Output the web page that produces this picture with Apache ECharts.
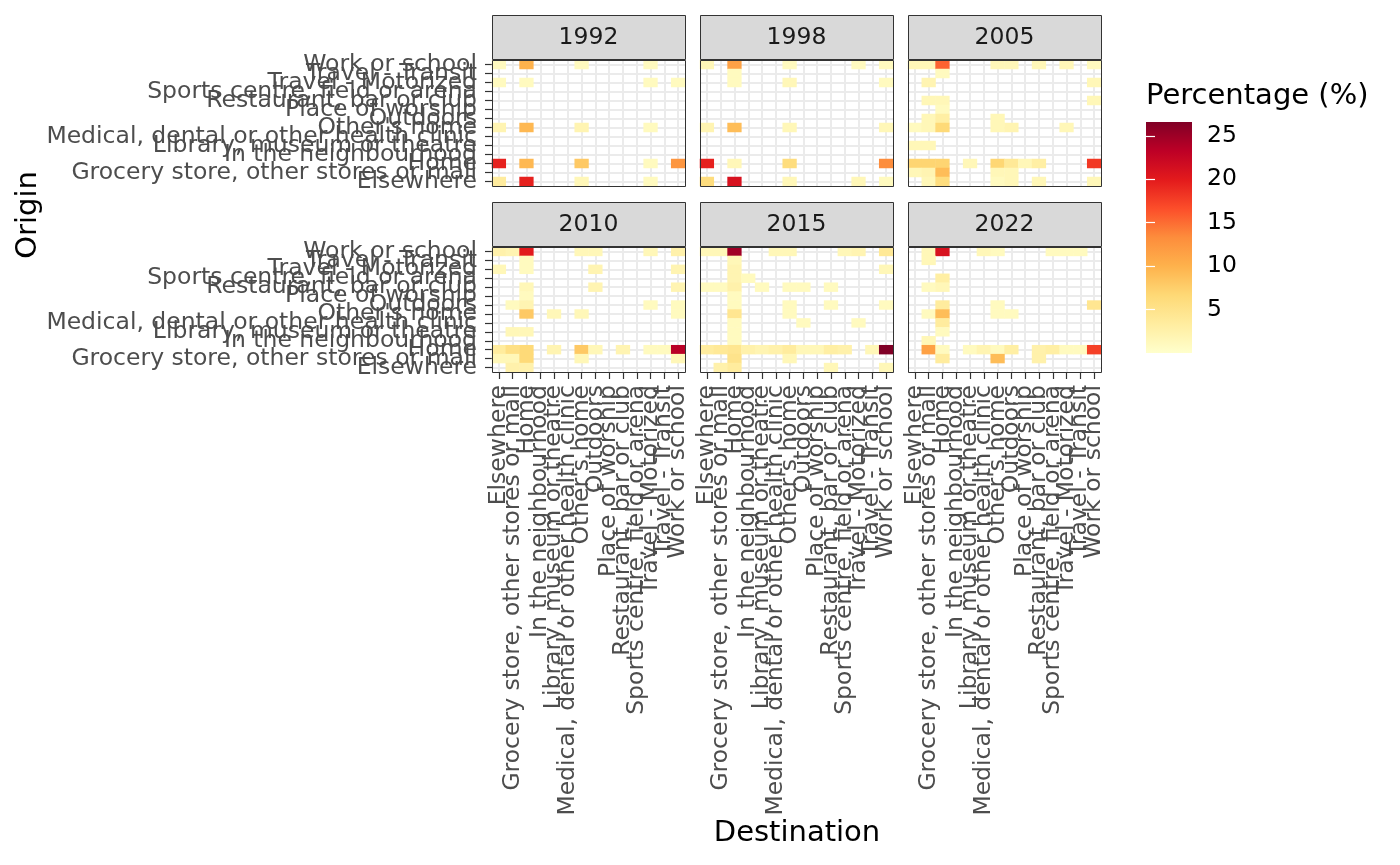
<!DOCTYPE html>
<html>
<head>
<meta charset="utf-8">
<script src="https://cdn.jsdelivr.net/npm/echarts@6/dist/echarts.min.js"></script>
<style>
  html, body { margin: 0; padding: 0; background: #fff; }
  #chart { width: 1400px; height: 865px; }
</style>
</head>
<body>
<div id="chart"></div>
<script>
var places = ['Elsewhere', 'Grocery store, other stores or mall', 'Home', 'In the neighbourhood',
  'Library, museum or theatre', 'Medical, dental or other health clinic', "Other's home", 'Outdoors',
  'Place of worship', 'Restaurant, bar or club', 'Sports centre, field or arena', 'Travel - Motorized',
  'Travel - Transit', 'Work or school'];
var years = ['1992', '1998', '2005', '2010', '2015', '2022'];

// [destination index, origin index, percentage]
var pct1992 = [
  [0,13,1],[2,13,10],[6,13,1],[11,13,1],
  [0,11,1],[2,11,1],[11,11,1],[13,11,1],
  [0,6,2],[2,6,9.5],[6,6,2],[11,6,1],
  [0,2,19.5],[2,2,9.5],[6,2,8],[11,2,1],[13,2,12.5],
  [0,0,3.5],[2,0,19.5],[6,0,1.5],[11,0,1]
];
var pct1998 = [
  [0,13,1.5],[2,13,11.5],[6,13,1],[11,13,1],[13,13,1],
  [2,12,1],
  [2,11,1],[6,11,1.5],[13,11,1],
  [0,6,2],[2,6,9],[6,6,1.5],[13,6,1.5],
  [0,2,19.5],[2,2,1.5],[6,2,6],[13,2,13.3],
  [0,0,6],[2,0,21],[6,0,1.5],[11,0,1.5],[13,0,1]
];
var pct2005 = [
  [0,13,1.5],[1,13,1.5],[2,13,15.5],[6,13,1.5],[7,13,1.5],[9,13,1.5],[11,13,1.5],[13,13,1],
  [2,12,1],
  [1,11,2],[13,11,1.5],
  [1,9,1.5],[2,9,1.5],[13,9,1.5],
  [2,8,1],
  [1,7,1.5],[2,7,3],[6,7,1.5],
  [0,6,1],[1,6,1.5],[2,6,6.5],[6,6,1.5],[7,6,2],[11,6,1.5],
  [0,4,1.5],[1,4,1.5],
  [0,2,7],[1,2,7],[2,2,7],[4,2,1.5],[6,2,6.8],[7,2,4],[8,2,1.5],[9,2,3],[13,2,18],
  [0,1,1.5],[1,1,2],[2,1,9],[6,1,1.5],[7,1,1.5],
  [1,0,1.5],[2,0,6],[6,0,1],[7,0,1.5],[9,0,1.5],[13,0,1.5]
];
var pct2010 = [
  [0,13,2.5],[1,13,2],[2,13,20],[6,13,1.5],[7,13,1.5],[11,13,1.5],[13,13,2.5],
  [2,12,1],
  [0,11,1.5],[2,11,1],[7,11,2],[13,11,2],
  [2,9,1.5],[7,9,2],[13,9,2],
  [2,8,1],
  [1,7,1],[2,7,2],[11,7,1],[13,7,1],
  [2,6,8],[4,6,1.5],[6,6,1.5],[13,6,1],
  [1,4,1.5],[2,4,1.5],
  [0,2,3.5],[1,2,5.5],[2,2,6.5],[4,2,2],[6,2,8],[7,2,1.5],[9,2,2],[11,2,1],[12,2,1],[13,2,23.5],
  [0,1,1.5],[1,1,1.5],[2,1,6.5],[6,1,1.5],[13,1,1.5],
  [1,0,2.5],[2,0,2.5]
];
var pct2015 = [
  [0,13,1.5],[1,13,1.5],[2,13,24.8],[5,13,1.5],[6,13,1.5],[10,13,1.5],[11,13,2],[13,13,4],
  [2,12,1.5],
  [2,11,2],[13,11,1.5],
  [2,10,2],[3,10,1],
  [0,9,1],[1,9,1],[2,9,2.5],[4,9,1],[6,9,1],[7,9,1],[9,9,1],
  [2,8,1],
  [2,7,1],[6,7,1],[9,7,1],[13,7,1],
  [2,6,4.5],[6,6,1],
  [2,5,1],[7,5,1],[11,5,1],
  [2,4,1],
  [2,3,1],
  [0,2,3.5],[1,2,4],[2,2,4.5],[3,2,2.5],[4,2,2],[5,2,2.5],[6,2,3.5],[7,2,1.5],[8,2,1.5],[9,2,3],[10,2,2.5],[12,2,1.5],[13,2,26.6],
  [2,1,5],[6,1,1.5],
  [1,0,2.5],[2,0,3.5],[9,0,1.5],[13,0,1.5]
];
var pct2022 = [
  [1,13,1.5],[2,13,21],[5,13,1.5],[6,13,1],[10,13,1],[11,13,1],[12,13,1],
  [1,12,1.5],
  [2,10,3],
  [1,9,1],[2,9,1.5],
  [2,7,3.5],[6,7,1],[13,7,4.5],
  [1,6,1],[2,6,9],[6,6,1],[7,6,1],
  [2,5,3.5],
  [2,4,1],
  [1,3,1.5],
  [1,2,11.5],[2,2,1],[4,2,1],[5,2,2],[6,2,1],[7,2,3],[9,2,2.5],[10,2,3],[11,2,1],[12,2,1],[13,2,17.5],
  [2,1,3.5],[6,1,9],[9,1,2.5]
];
var panels = [pct1992, pct1998, pct2005, pct2010, pct2015, pct2022];

var legendTicks = [5, 10, 15, 20, 25];
var pctMin = 0, pctMax = 26.6;
var palette = ['#ffffcc','#ffeda0','#fed976','#feb24c','#fd8d3c','#fc4e2a','#e31a1c','#bd0026','#800026'];

// layout
var colLeft = [492, 700, 908];
var rowTop = [60, 247];
var rowH = [126, 125];
var panelW = 193;
var FONT = 'DejaVu Sans';
var small = 23.5, big = 29;

var chart = echarts.init(document.getElementById('chart'));

var grids = [], xAxes = [], yAxes = [], series = [], graphics = [];

panels.forEach(function (cells, i) {
  var c = i % 3, r = Math.floor(i / 3);
  var L = colLeft[c], T = rowTop[r], H = rowH[r];
  grids.push({ left: L, top: T, width: panelW, height: H, containLabel: false });
  xAxes.push({
    type: 'category', gridIndex: i, data: places,
    axisLine: { show: false },
    axisTick: { show: r === 1, alignWithLabel: true, length: 7, lineStyle: { color: '#333', width: 1.2 } },
    axisLabel: { show: r === 1, interval: 0, rotate: 90, fontSize: small, color: '#4d4d4d', margin: 13, fontFamily: FONT },
    splitLine: { show: true, alignWithLabel: true, interval: 0, lineStyle: { color: '#ebebeb', width: 2 } }
  });
  yAxes.push({
    type: 'category', gridIndex: i, data: places,
    axisLine: { show: false },
    axisTick: { show: c === 0, alignWithLabel: true, length: 7, lineStyle: { color: '#333', width: 1.2 } },
    axisLabel: { show: c === 0, interval: 0, fontSize: small, color: '#4d4d4d', margin: 15, fontFamily: FONT },
    splitLine: { show: true, alignWithLabel: true, interval: 0, lineStyle: { color: '#ebebeb', width: 2 } }
  });
  series.push({
    type: 'heatmap', xAxisIndex: i, yAxisIndex: i, data: cells,
    itemStyle: { borderWidth: 0 },
    emphasis: { disabled: true }
  });
  // strip
  graphics.push({
    type: 'rect', z: 50,
    shape: { x: L + 0.5, y: T - 44.5, width: panelW, height: 44 },
    style: { fill: '#d9d9d9', stroke: '#333', lineWidth: 1 }
  });
  graphics.push({
    type: 'text', z: 51, x: L + panelW / 2, y: T - 22,
    style: { text: years[i], fill: '#1a1a1a', fontSize: small, fontFamily: FONT, textAlign: 'center', textVerticalAlign: 'middle' }
  });
  // panel border
  graphics.push({
    type: 'rect', z: 100,
    shape: { x: L + 0.5, y: T + 0.5, width: panelW, height: H },
    style: { fill: 'none', stroke: '#333', lineWidth: 1 }
  });
});

// colour bar grid
var barL = 1146, barT = 122, barW = 46, barH = 231;
grids.push({ left: barL, top: barT, width: barW, height: barH });
xAxes.push({ type: 'value', gridIndex: 6, show: false });
var tickStyle = { show: true, inside: true, length: 9, customValues: legendTicks, lineStyle: { color: '#fff', width: 1.2 } };
yAxes.push({
  type: 'value', gridIndex: 6, min: pctMin, max: pctMax, position: 'right', z: 20,
  axisLine: { show: false }, splitLine: { show: false },
  axisTick: tickStyle,
  axisLabel: { customValues: legendTicks, fontSize: small, color: '#000', margin: 15, fontFamily: FONT }
});
yAxes.push({
  type: 'value', gridIndex: 6, min: pctMin, max: pctMax, position: 'left', z: 20,
  axisLine: { show: false }, splitLine: { show: false },
  axisTick: tickStyle, axisLabel: { show: false }
});

graphics.push({
  type: 'rect', z: 1,
  shape: { x: barL, y: barT, width: barW, height: barH },
  style: {
    fill: new echarts.graphic.LinearGradient(0, 1, 0, 0, palette.map(function (col, k) {
      return { offset: k / (palette.length - 1), color: col };
    }))
  }
});
graphics.push({
  type: 'text', x: barL, y: 96,
  style: { text: 'Percentage (%)', fill: '#000', fontSize: big, fontFamily: FONT, textVerticalAlign: 'middle' }
});
graphics.push({
  type: 'text', x: 797, y: 833,
  style: { text: 'Destination', fill: '#000', fontSize: big, fontFamily: FONT, textAlign: 'center', textVerticalAlign: 'middle' }
});
graphics.push({
  type: 'text', x: 28, y: 215, rotation: Math.PI / 2,
  style: { text: 'Origin', fill: '#000', fontSize: big, fontFamily: FONT, textAlign: 'center', textVerticalAlign: 'middle' }
});

chart.setOption({
  animation: false,
  backgroundColor: '#fff',
  textStyle: { fontFamily: FONT },
  grid: grids,
  xAxis: xAxes,
  yAxis: yAxes,
  visualMap: {
    type: 'continuous', show: false, min: pctMin, max: pctMax,
    seriesIndex: [0, 1, 2, 3, 4, 5], dimension: 2,
    inRange: { color: palette }
  },
  series: series,
  graphic: graphics
});
</script>
</body>
</html>
